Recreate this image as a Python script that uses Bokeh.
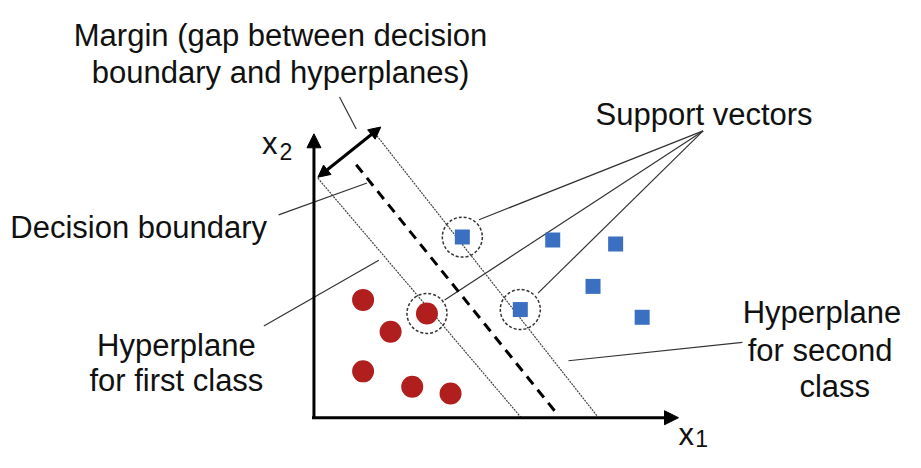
from bokeh.plotting import figure
from bokeh.models import Range1d, Arrow, NormalHead
from bokeh.core.properties import value
from bokeh.embed import file_html
from bokeh.resources import INLINE

# ---- data (positions in reference picture pixel space) ----
red_x = [369, 397, 434, 369, 419, 458]
red_y = [310, 343, 324, 384, 400, 407]
blue_x = [470, 562, 626, 603, 529, 653]
blue_y = [245, 248, 252, 296, 320, 328]
sv_x = [434, 470, 529]
sv_y = [324, 245, 320]

hyper1_x = [323, 530]
hyper1_y = [184, 432]
boundary_x = [362, 568]
boundary_y = [170, 430]
hyper2_x = [383, 607]
hyper2_y = [140, 430]

leader_xs = [[345, 362], [283, 373], [268, 385], [578, 755], [487, 715], [452, 715], [547, 715]]
leader_ys = [[100, 133], [222, 189], [337, 269], [373, 354], [227, 135], [310, 135], [303, 135]]

labels_c = ["Margin (gap between decision", "boundary and hyperplanes)", "Support vectors",
            "Hyperplane", "for first class", "Hyperplane", "for second", "class"]
labels_cx = [285, 285, 716, 179, 179, 836, 834, 849]
labels_cy = [36, 75, 118, 357, 393, 323, 362, 400]

FONT = "Liberation Sans"
FS = "31px"

p = figure(width=905, height=452, x_range=Range1d(0, 921), y_range=Range1d(468, 0),
           toolbar_location=None, output_backend="svg", min_border=0,
           x_axis_type=None, y_axis_type=None, outline_line_color=None)
p.grid.visible = False

# leaders
p.multi_line(leader_xs, leader_ys, line_color="#333333", line_width=1.2)

# hyperplanes and boundary
p.line(hyper1_x, hyper1_y, line_color="#444444", line_width=1.2, line_dash="2 1")
p.line(hyper2_x, hyper2_y, line_color="#444444", line_width=1.2, line_dash="2 1")
p.line(boundary_x, boundary_y, line_color="black", line_width=3, line_dash="10 7")

# axes
p.add_layout(Arrow(end=NormalHead(size=14, fill_color="black", line_color="black"),
                   x_start=319, y_start=433, x_end=319, y_end=138, line_width=3))
p.add_layout(Arrow(end=NormalHead(size=14, fill_color="black", line_color="black"),
                   x_start=317, y_start=432, x_end=690, y_end=432, line_width=3))
# margin arrow
p.add_layout(Arrow(start=NormalHead(size=12, fill_color="black", line_color="black"),
                   end=NormalHead(size=12, fill_color="black", line_color="black"),
                   x_start=323, y_start=183, x_end=387, y_end=131, line_width=3))

# points
p.scatter(red_x, red_y, marker="circle", size=22, fill_color="#B01E1E", line_color=None)
p.scatter(blue_x, blue_y, marker="square", size=15, fill_color="#3B6FC2", line_color=None)
p.scatter(sv_x, sv_y, marker="circle", size=40, fill_color=None, line_color="#333333",
          line_width=1.5, line_dash="3 2")

# texts
p.text(labels_cx, labels_cy, text=labels_c, text_align="center", text_baseline="alphabetic",
       text_font=value(FONT), text_font_size=FS, text_color="#111111")
p.text([10], [235], text=["Decision boundary"], text_align="left", text_baseline="alphabetic",
       text_font=value(FONT), text_font_size=FS, text_color="#111111")
# axis labels
p.text([266, 690], [148, 449], text=["x", "x"], text_align="left", text_baseline="alphabetic",
       text_font=value(FONT), text_font_size="31px", text_color="#111111")
p.text([284, 707], [156, 454], text=["2", "1"], text_align="left", text_baseline="alphabetic",
       text_font=value(FONT), text_font_size="23px", text_color="#111111")

open("out.html", "w").write(file_html(p, INLINE))
